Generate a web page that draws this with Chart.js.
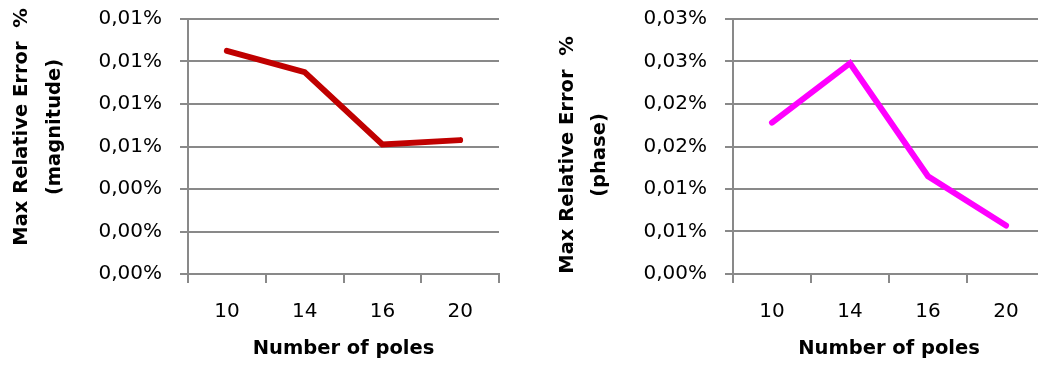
<!DOCTYPE html>
<html>
<head>
<meta charset="utf-8">
<script src="https://cdn.jsdelivr.net/npm/chart.js@4/dist/chart.umd.min.js"></script>
<style>
  html, body { margin: 0; padding: 0; background: #fff; overflow: hidden; }
  body { width: 1038px; height: 365px; position: relative; }
  canvas { position: absolute; top: 0; }
  #magChart { left: 0; }
  #phaseChart { left: 520px; }
</style>
</head>
<body>
<canvas id="magChart" width="520" height="365"></canvas>
<canvas id="phaseChart" width="530" height="365"></canvas>
<script>
// number of poles on the x axis
var poles = ['10', '14', '16', '20'];
// max relative error, in percent
var magnitudeError = [0.0105, 0.0095, 0.0061, 0.0063];
var phaseError = [0.0178, 0.0248, 0.0115, 0.0057];
// value axis ranges
var magnitudeAxis = { max: 0.012, step: 0.002 };
var phaseAxis = { max: 0.03, step: 0.005 };

var gridColor = '#898989';
var fontFamily = "'DejaVu Sans', sans-serif";

// two decimals with a comma, rounding half up (0.015 -> 0,02)
function formatPercent(v) {
    var r = Math.round(v * 100 + 1e-6) / 100;
    return r.toFixed(2).replace('.', ',') + '%';
}

// rotated two-line y axis title, drawn next to the axis
function yTitlePlugin(lines, x1, x2, yCenter) {
    return {
        id: 'yTitle',
        afterDraw: function (chart) {
            var ctx = chart.ctx;
            ctx.save();
            ctx.fillStyle = '#000';
            ctx.font = 'bold 19.5px ' + fontFamily;
            ctx.textAlign = 'center';
            ctx.textBaseline = 'middle';
            [x1, x2].forEach(function (x, i) {
                ctx.save();
                ctx.translate(x, yCenter);
                ctx.rotate(-Math.PI / 2);
                ctx.fillText(lines[i], 0, 0);
                ctx.restore();
            });
            ctx.restore();
        }
    };
}

function makeChart(id, data, color, axis, yWidth, padRight, titleLines, tx1, tx2, ty) {
    return new Chart(document.getElementById(id), {
        type: 'line',
        data: {
            labels: poles,
            datasets: [{
                data: data,
                borderColor: color,
                backgroundColor: color,
                borderWidth: 6,
                borderCapStyle: 'round',
                borderJoinStyle: 'miter',
                pointRadius: 0,
                fill: false,
                tension: 0
            }]
        },
        options: {
            responsive: false,
            animation: false,
            layout: { padding: { left: 0, right: padRight, top: 19, bottom: 0 } },
            plugins: { legend: { display: false }, tooltip: { enabled: false } },
            scales: {
                x: {
                    offset: true,
                    afterFit: function (scale) { scale.height = 91; },
                    grid: {
                        offset: true,
                        drawOnChartArea: false,
                        color: gridColor,
                        lineWidth: 2,
                        tickLength: 9
                    },
                    border: { display: true, color: gridColor, width: 2 },
                    ticks: {
                        color: '#000',
                        padding: 17,
                        font: { family: fontFamily, size: 20 }
                    },
                    title: {
                        display: true,
                        text: 'Number of poles',
                        color: '#000',
                        padding: { top: 4, bottom: 4 },
                        font: { family: fontFamily, size: 19.5, weight: 'bold' }
                    }
                },
                y: {
                    min: 0,
                    max: axis.max,
                    afterFit: function (scale) {
                        scale.width = yWidth;
                        scale.paddingTop = 0;
                        scale.paddingBottom = 0;
                    },
                    grid: {
                        color: gridColor,
                        lineWidth: 2,
                        tickLength: 8
                    },
                    border: { display: true, color: gridColor, width: 2 },
                    ticks: {
                        stepSize: axis.step,
                        color: '#000',
                        padding: 18,
                        font: { family: fontFamily, size: 20 },
                        callback: function (v) { return formatPercent(v); }
                    }
                }
            }
        },
        plugins: [yTitlePlugin(titleLines, tx1, tx2, ty)]
    });
}

makeChart('magChart', magnitudeError, '#C00000', magnitudeAxis, 188, 21,
    ['Max Relative Error  %', '(magnitude)'], 22, 55, 127);
makeChart('phaseChart', phaseError, '#FF00FF', phaseAxis, 213, 5,
    ['Max Relative Error  %', '(phase)'], 47.5, 80, 155);
</script>
</body>
</html>
